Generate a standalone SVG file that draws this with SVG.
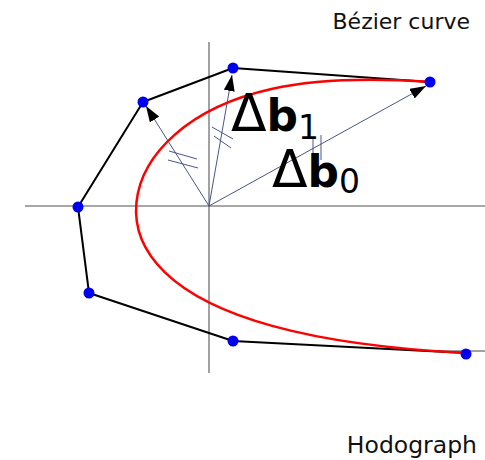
<svg xmlns="http://www.w3.org/2000/svg" width="485" height="460" viewBox="0 0 485 460">
  <style>
    .axis-h { stroke: #8a8a8a; stroke-width: 1.6; fill: none; }
    .axis-v { stroke: #444; stroke-width: 1; fill: none; }
    .vec { stroke: #4a5686; stroke-width: 1; fill: none; }
    .tick { stroke: #4a5686; stroke-width: 1; fill: none; }
    .poly { stroke: #000; stroke-width: 2; fill: none; stroke-linejoin: round; }
    .curve { stroke: #f00; stroke-width: 2.5; fill: none; }
    .pt { fill: #0000ee; }
    .lbl { font-family: "DejaVu Sans", "Liberation Sans", sans-serif; fill: #111; }
    .math { font-family: "DejaVu Sans", "Liberation Sans", sans-serif; fill: #000; }
  </style>
  <defs>
    <marker id="ah" markerUnits="userSpaceOnUse" markerWidth="17" markerHeight="12" refX="16" refY="5.5" orient="auto">
      <path d="M0,0 L16,5.5 L0,11 z" fill="#000"/>
    </marker>
  </defs>
  <rect width="485" height="460" fill="#fff"/>

  <g id="axes">
    <line class="axis-h" x1="25" y1="206" x2="485" y2="206"/>
    <line class="axis-v" x1="209" y1="42" x2="209" y2="373"/>
    <line class="axis-v" x1="430" y1="351" x2="485" y2="351"/>
  </g>

  <g id="connectors">
    <line class="vec" x1="209" y1="206" x2="146" y2="106" marker-end="url(#ah)"/>
    <line class="vec" x1="209" y1="206" x2="232" y2="75" marker-end="url(#ah)"/>
    <line class="vec" x1="209" y1="206" x2="426" y2="86" marker-end="url(#ah)"/>
    <line class="tick" x1="169" y1="151" x2="197" y2="159"/>
    <line class="tick" x1="168" y1="160" x2="198" y2="168"/>
    <line class="tick" x1="212" y1="127" x2="233" y2="139"/>
    <line class="tick" x1="214" y1="136" x2="231" y2="148"/>
    <line class="tick" x1="313" y1="139" x2="313" y2="158"/>
    <line class="tick" x1="321" y1="135" x2="321" y2="160"/>
  </g>

  <g id="control-polygon">
    <polyline class="poly" points="430,82 233,68 143,102 78,207 89,293 233,341 466,353"/>
  </g>

  <g id="bezier-curve">
    <path class="curve" d="M430,82 C364.33,77.33 313.07,79.68 271.43,88.96 C229.79,98.24 197.87,114.30 175.11,134.33 C152.35,154.36 138.88,178.27 136.44,202.41 C134.00,226.55 142.72,250.88 164.89,272.32 C187.06,293.76 222.78,312.28 273.07,326.09 C323.36,339.90 388.33,349.00 466,353"/>
  </g>

  <g id="control-points">
    <circle class="pt" cx="430" cy="82" r="5.5"/>
    <circle class="pt" cx="233" cy="68" r="5.5"/>
    <circle class="pt" cx="143" cy="102" r="5.5"/>
    <circle class="pt" cx="78" cy="207" r="5.5"/>
    <circle class="pt" cx="89" cy="293" r="5.5"/>
    <circle class="pt" cx="233" cy="341" r="5.5"/>
    <circle class="pt" cx="466" cy="354" r="5.5"/>
  </g>

  <g id="label-db1">
    <text class="math" x="231" y="131" font-size="52">Δ<tspan font-weight="bold" font-size="44">b</tspan><tspan font-size="33" dy="8">1</tspan></text>
  </g>
  <g id="label-db0">
    <text class="math" x="272" y="187" font-size="52">Δ<tspan font-weight="bold" font-size="44">b</tspan><tspan font-size="33" dy="6">0</tspan></text>
  </g>

  <g id="title-bezier">
    <text class="lbl" x="470" y="29" font-size="22" text-anchor="end">Bézier curve</text>
  </g>
  <g id="title-hodograph">
    <text class="lbl" x="477" y="453" font-size="23.5" text-anchor="end">Hodograph</text>
  </g>
</svg>
